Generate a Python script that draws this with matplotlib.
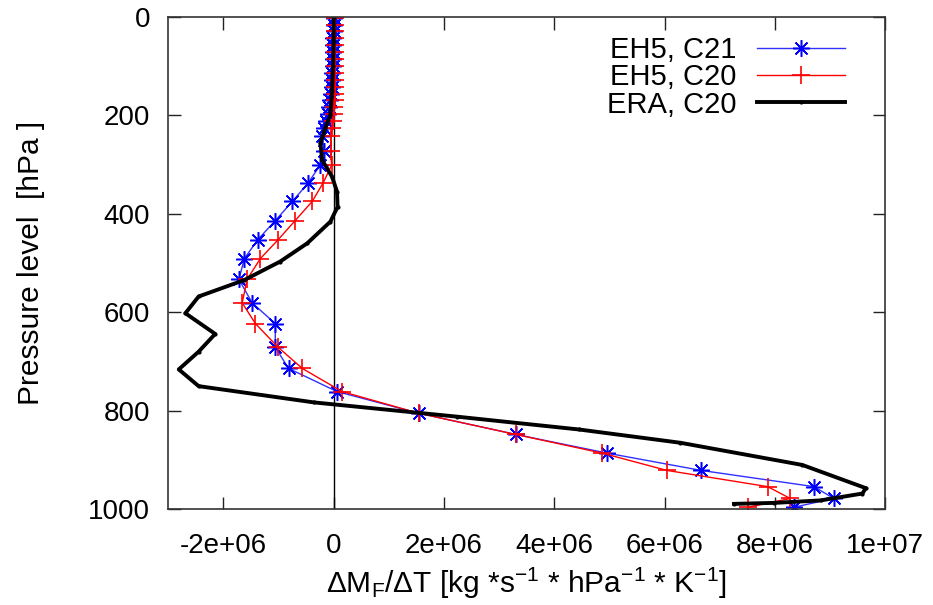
import numpy as np
import matplotlib
matplotlib.use('Agg')
import matplotlib.pyplot as plt

plt.rcParams['font.family'] = ['Liberation Sans', 'DejaVu Sans']
plt.rcParams['mathtext.fontset'] = 'custom'
plt.rcParams['mathtext.rm'] = 'Liberation Sans'
plt.rcParams['mathtext.it'] = 'Liberation Sans'
plt.rcParams['mathtext.default'] = 'regular'

# pressure levels of the EH5 runs [hPa]
eh5_lev = [2, 16, 30, 44, 58, 72, 86, 100, 114, 128, 142, 156, 170, 184, 198, 212, 226,
           242, 272, 302, 337, 375, 414, 453, 491, 533, 581, 623, 671, 714, 761,
           805, 848, 886, 921, 954, 978, 996]
# values in units of 1e6
eh5_c21 = [0.0, 0.0, 0.0, -0.01, -0.01, -0.01, -0.02, -0.02, -0.03, -0.03, -0.04, -0.05,
           -0.06, -0.08, -0.10, -0.14, -0.17,
           -0.21, -0.18, -0.25, -0.46, -0.75, -1.06, -1.38, -1.62, -1.72, -1.48, -1.06,
           -1.06, -0.82, 0.06, 1.54, 3.30, 4.96, 6.66, 8.71, 9.07, 8.34]
eh5_c20 = [0.03, 0.03, 0.03, 0.03, 0.03, 0.03, 0.03, 0.03, 0.03, 0.03, 0.03, 0.02,
           0.02, 0.01, 0.0, -0.02, -0.03,
           -0.05, -0.05, -0.04, -0.19, -0.39, -0.70, -1.01, -1.33, -1.57, -1.66, -1.42,
           -1.01, -0.57, 0.15, 1.54, 3.30, 4.87, 6.04, 7.87, 8.28, 7.51]

era_lev = [0, 50, 100, 150, 200, 225, 257, 291, 325, 355, 386, 416, 460, 497, 535, 568,
           602, 644, 680, 716, 750, 783, 812, 838, 865, 910, 957, 968, 982, 987, 989]
era_c20 = [0.0, 0.0, -0.01, -0.03, -0.06, -0.15, -0.24, -0.21, -0.03, 0.06, 0.07, -0.06,
           -0.48, -0.97, -1.63, -2.45, -2.69, -2.15, -2.45, -2.81, -2.45, -0.36, 2.24,
           4.45, 6.29, 8.50, 9.65, 9.59, 8.83, 7.99, 7.26]

xticks = [-2e6, 0, 2e6, 4e6, 6e6, 8e6, 1e7]
xticklabels = ['-2e+06', '0', '2e+06', '4e+06', '6e+06', '8e+06', '1e+07']
yticks = [0, 200, 400, 600, 800, 1000]

fig = plt.figure(figsize=(9.33, 6.05), dpi=100)
ax = fig.add_axes([0.1804, 0.1582, 0.7682, 0.8142])

ax.axvline(0, color='black', lw=1)

ax.plot(np.array(eh5_c21) * 1e6, eh5_lev, color='#3030ff', lw=1, marker=(8, 2, 0),
        ms=12, mew=1.1, mec='blue', label='EH5, C21')
ax.plot(np.array(eh5_c20) * 1e6, eh5_lev, color='red', lw=1, marker='+',
        ms=13, mew=1.2, label='EH5, C20')
ax.plot(np.array(era_c20) * 1e6, era_lev, color='black', lw=2.8, marker='.',
        ms=4, label='ERA, C20')

ax.set_xlim(-3e6, 1e7)
ax.set_ylim(1000, 0)
ax.set_xticks(xticks)
ax.set_xticklabels(xticklabels)
ax.set_yticks(yticks)
ax.tick_params(direction='in', length=9, width=1, top=True, right=True,
               labelsize=20, colors='#222222', labelcolor='black')
ax.tick_params(axis='x', pad=17)
ax.tick_params(axis='y', pad=13)
for s in ax.spines.values():
    s.set_linewidth(1.2)
    s.set_color('#333333')

ax.set_ylabel('Pressure level  [hPa ]', fontsize=21.5, labelpad=31)
ax.set_xlabel(r'$\Delta$M$_F$/$\Delta$T [kg *s$^{-1}$ * hPa$^{-1}$ * K$^{-1}$]',
              fontsize=21.5, labelpad=5)

leg = ax.legend(loc='upper right', bbox_to_anchor=(0.96, 0.985), frameon=False,
                markerfirst=False, fontsize=21, handlelength=3.0, handletextpad=0.7,
                labelspacing=-0.02, borderaxespad=0.0)

fig.savefig('out.png', dpi=100)
